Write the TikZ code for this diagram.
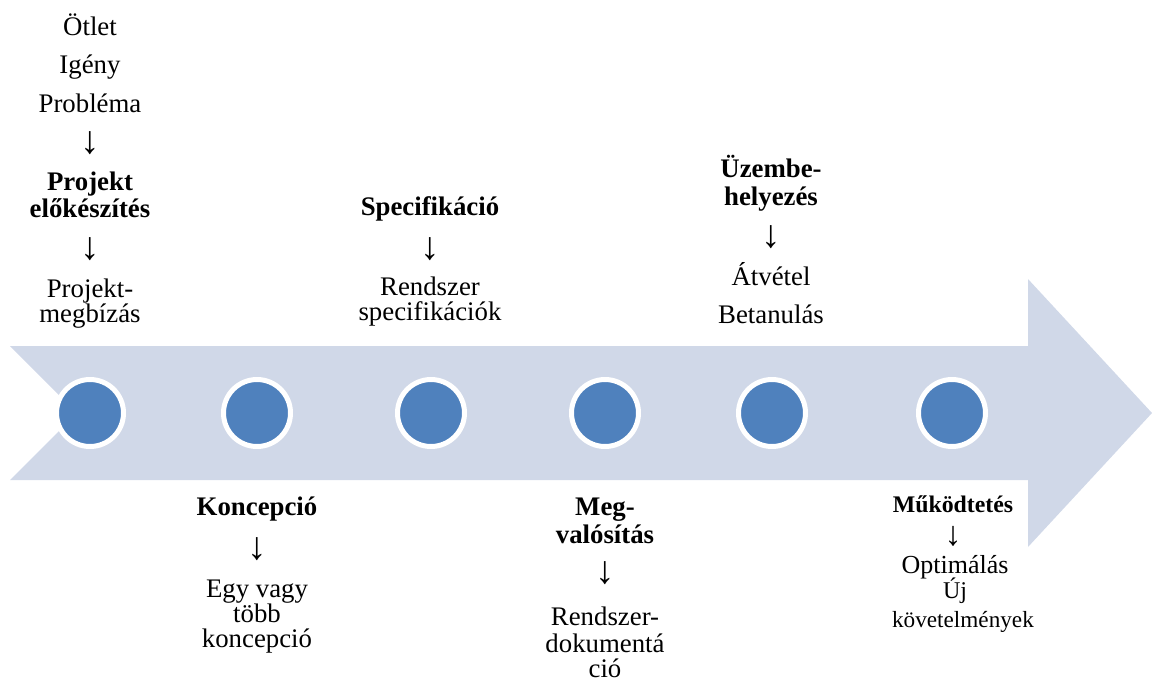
\documentclass[tikz,border=0pt]{standalone}
\usepackage{fontspec}
\setmainfont{Liberation Serif}
\definecolor{bandC}{HTML}{D0D8E8}
\definecolor{dotC}{HTML}{4F81BD}
\begin{document}
\begin{tikzpicture}[x=0.5pt,y=-0.5pt,
  txt/.style={inner sep=0pt, anchor=base, font=\fontsize{13.4}{16}\selectfont},
  btxt/.style={txt, font=\fontsize{13.4}{16}\selectfont\bfseries},
  down/.style={inner sep=0pt, anchor=center, font=\fontsize{19.5}{22}\selectfont},
  dot/.style={circle, fill=dotC, draw=white, line width=2.5pt, minimum size=33.5pt, inner sep=0pt}]
\useasboundingbox (0,0) rectangle (1152,681);
% big arrow band
\fill[bandC] (10,346) -- (1028,346) -- (1028,279) -- (1152,413) -- (1028,547) -- (1028,480) -- (10,480) -- (77,413) -- cycle;
% dots
\node[dot] (c1) at (90,413) {};
\node[dot] (c2) at (257,413) {};
\node[dot] (c3) at (431,413) {};
\node[dot] (c4) at (605,413) {};
\node[dot] (c5) at (772,413) {};
\node[dot] (c6) at (952,413) {};
% column 1
\node[txt] (a1) at (90,35) {Ötlet};
\node[txt] (a2) at (90,73) {Igény};
\node[txt] (a3) at (90,112) {Probléma};
\node[down] (a4) at (90,143) {↓};
\node[btxt] (a5) at (90,190) {Projekt};
\node[btxt] (a6) at (90,217) {előkészítés};
\node[down] (a7) at (90,249) {↓};
\node[txt] (a8) at (90,297) {Projekt-};
\node[txt] (a9) at (90,322) {megbízás};
% column 2
\node[btxt] (b1) at (257,515) {Koncepció};
\node[down] (b2) at (257,549) {↓};
\node[txt] (b3) at (257,597) {Egy vagy};
\node[txt] (b4) at (257,622) {több};
\node[txt] (b5) at (257,647) {koncepció};
% column 3
\node[btxt] (s1) at (430,215) {Specifikáció};
\node[down] (s2) at (430,249) {↓};
\node[txt] (s3) at (430,295) {Rendszer};
\node[txt] (s4) at (430,320) {specifikációk};
% column 4
\node[btxt] (m1) at (605,515) {Meg-};
\node[btxt] (m2) at (605,543) {valósítás};
\node[down] (m3) at (605,573) {↓};
\node[txt] (m4) at (605,625) {Rendszer-};
\node[txt] (m5) at (605,652) {dokumentá};
\node[txt] (m6) at (605,677) {ció};
% column 5
\node[btxt] (u1) at (771,177) {Üzembe-};
\node[btxt] (u2) at (771,205) {helyezés};
\node[down] (u3) at (771,237) {↓};
\node[txt] (u4) at (771,285) {Átvétel};
\node[txt] (u5) at (771,323) {Betanulás};
% column 6
\node[btxt, font=\fontsize{11.9}{14}\selectfont\bfseries] (w1) at (953,512) {Működtetés};
\node[down, font=\fontsize{17}{19}\selectfont] (w2) at (953,536) {↓};
\node[txt, font=\fontsize{13}{14}\selectfont] (w3) at (955,573) {Optimálás};
\node[txt, font=\fontsize{12}{14}\selectfont] (w4) at (955,598) {Új};
\node[txt, font=\fontsize{11.6}{14}\selectfont] (w5) at (963,627) {követelmények};
\end{tikzpicture}
\end{document}
